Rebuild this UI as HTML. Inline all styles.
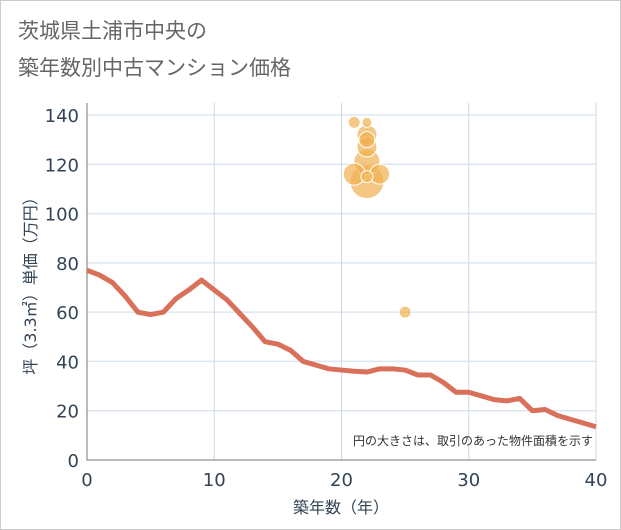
<!DOCTYPE html>
<html><head><meta charset="utf-8"><style>
body{margin:0;background:#fff;font-family:"DejaVu Sans","Noto Sans CJK JP",sans-serif;}
#wrap{position:relative;width:621px;height:530px;}
</style></head><body>
<div id="wrap">
<svg id="chart" width="621" height="530" style="position:absolute;left:0;top:0" font-family="DejaVu Sans, Noto Sans CJK JP, sans-serif">
<rect x="0.5" y="0.5" width="620" height="529" fill="#fff" stroke="#ccc"/>
<text x="18" y="38" font-size="21" fill="#666">茨城県土浦市中央の</text>
<text x="18" y="75" font-size="21" fill="#666">築年数別中古マンション価格</text>
<g id="grid"></g><g id="axes"></g><g id="line"></g><g id="bubbles"></g>
<text x="593" y="445" font-size="12" fill="#333" text-anchor="end">円の大きさは、取引のあった物件面積を示す</text>
<text x="341" y="513" font-size="16" fill="#334455" text-anchor="middle">築年数（年）</text>
<text transform="translate(36,282) rotate(-90)" font-size="16" fill="#334455" text-anchor="middle">坪（3.3㎡）単価（万円）</text>
</svg></div>
<script>
const xTicks=[0,10,20,30,40];
const yTicks=[0,20,40,60,80,100,120,140];
const lineYears=[0,1,2,3,4,5,6,7,8,9,10,11,12,13,14,15,16,17,18,19,20,21,22,23,24,25,26,27,28,29,30,31,32,33,34,35,36,37,38,39,40];
const linePrices=[77,75,72,66.5,60,59,60,65.5,69,73,69,65,59.5,54,48,47,44.5,40,38.5,37,36.5,36,35.7,37,37,36.5,34.5,34.5,31.5,27.5,27.5,26,24.5,24,25,20,20.5,18,16.5,15,13.5];
const bubbleYears=[21,22,22,22,22,21,23,22,22,25,22];
const bubblePrices=[137,137,132,127,121,116,116,113,115,60,130];
const bubbleSizes=[6,5,10,10,13,11,10,17,6,6,8];
const X0=87,X1=596,Y0=460,Y1=115,TOP=103;
const sx=v=>X0+(v-0)/(40-0)*(X1-X0);
const sy=v=>Y0-(v-0)/(140-0)*(Y0-Y1);
const NS="http://www.w3.org/2000/svg";
function mk(t,a,p){const e=document.createElementNS(NS,t);for(const k in a)e.setAttribute(k,a[k]);p.appendChild(e);return e;}
const grid=document.getElementById('grid'),axes=document.getElementById('axes');
mk('rect',{x:X0,y:TOP,width:X1-X0,height:Y0-TOP,fill:'#fff'},grid);
yTicks.forEach(v=>{if(v>0){const l=mk('line',{x1:X0,x2:X1,y1:sy(v),y2:sy(v),stroke:'#dde6f0','stroke-width':1.5},grid);

}
const t=mk('text',{x:X0-8,y:sy(v)+7,'font-size':18,fill:'#334455','text-anchor':'end'},axes);t.textContent=v;

});
xTicks.forEach(v=>{if(v>0){const l=mk('line',{x1:sx(v),x2:sx(v),y1:TOP,y2:Y0,stroke:'#d0d8e4','stroke-width':1},grid);

}
const t=mk('text',{x:sx(v),y:Y0+26,'font-size':18,fill:'#334455','text-anchor':'middle'},axes);t.textContent=v;

});
const ax=mk('path',{d:`M${X0} ${TOP}V${Y0}H${X1}`,fill:'none',stroke:'#777','stroke-width':1},axes);


const pl=mk('polyline',{points:lineYears.map((y,i)=>sx(y)+','+sy(linePrices[i])).join(' '),fill:'none',stroke:'#d9705a','stroke-width':5,'stroke-linejoin':'round'},document.getElementById('line'));


const bg=document.getElementById('bubbles');
const order=bubbleSizes.map((s,i)=>i).sort((a,b)=>bubbleSizes[b]-bubbleSizes[a]);
order.forEach(i=>{const c=mk('circle',{cx:sx(bubbleYears[i]),cy:sy(bubblePrices[i]),r:bubbleSizes[i],fill:'#f0b050','fill-opacity':0.7,stroke:'#fff','stroke-width':1},bg);

});
</script>
</body></html>
